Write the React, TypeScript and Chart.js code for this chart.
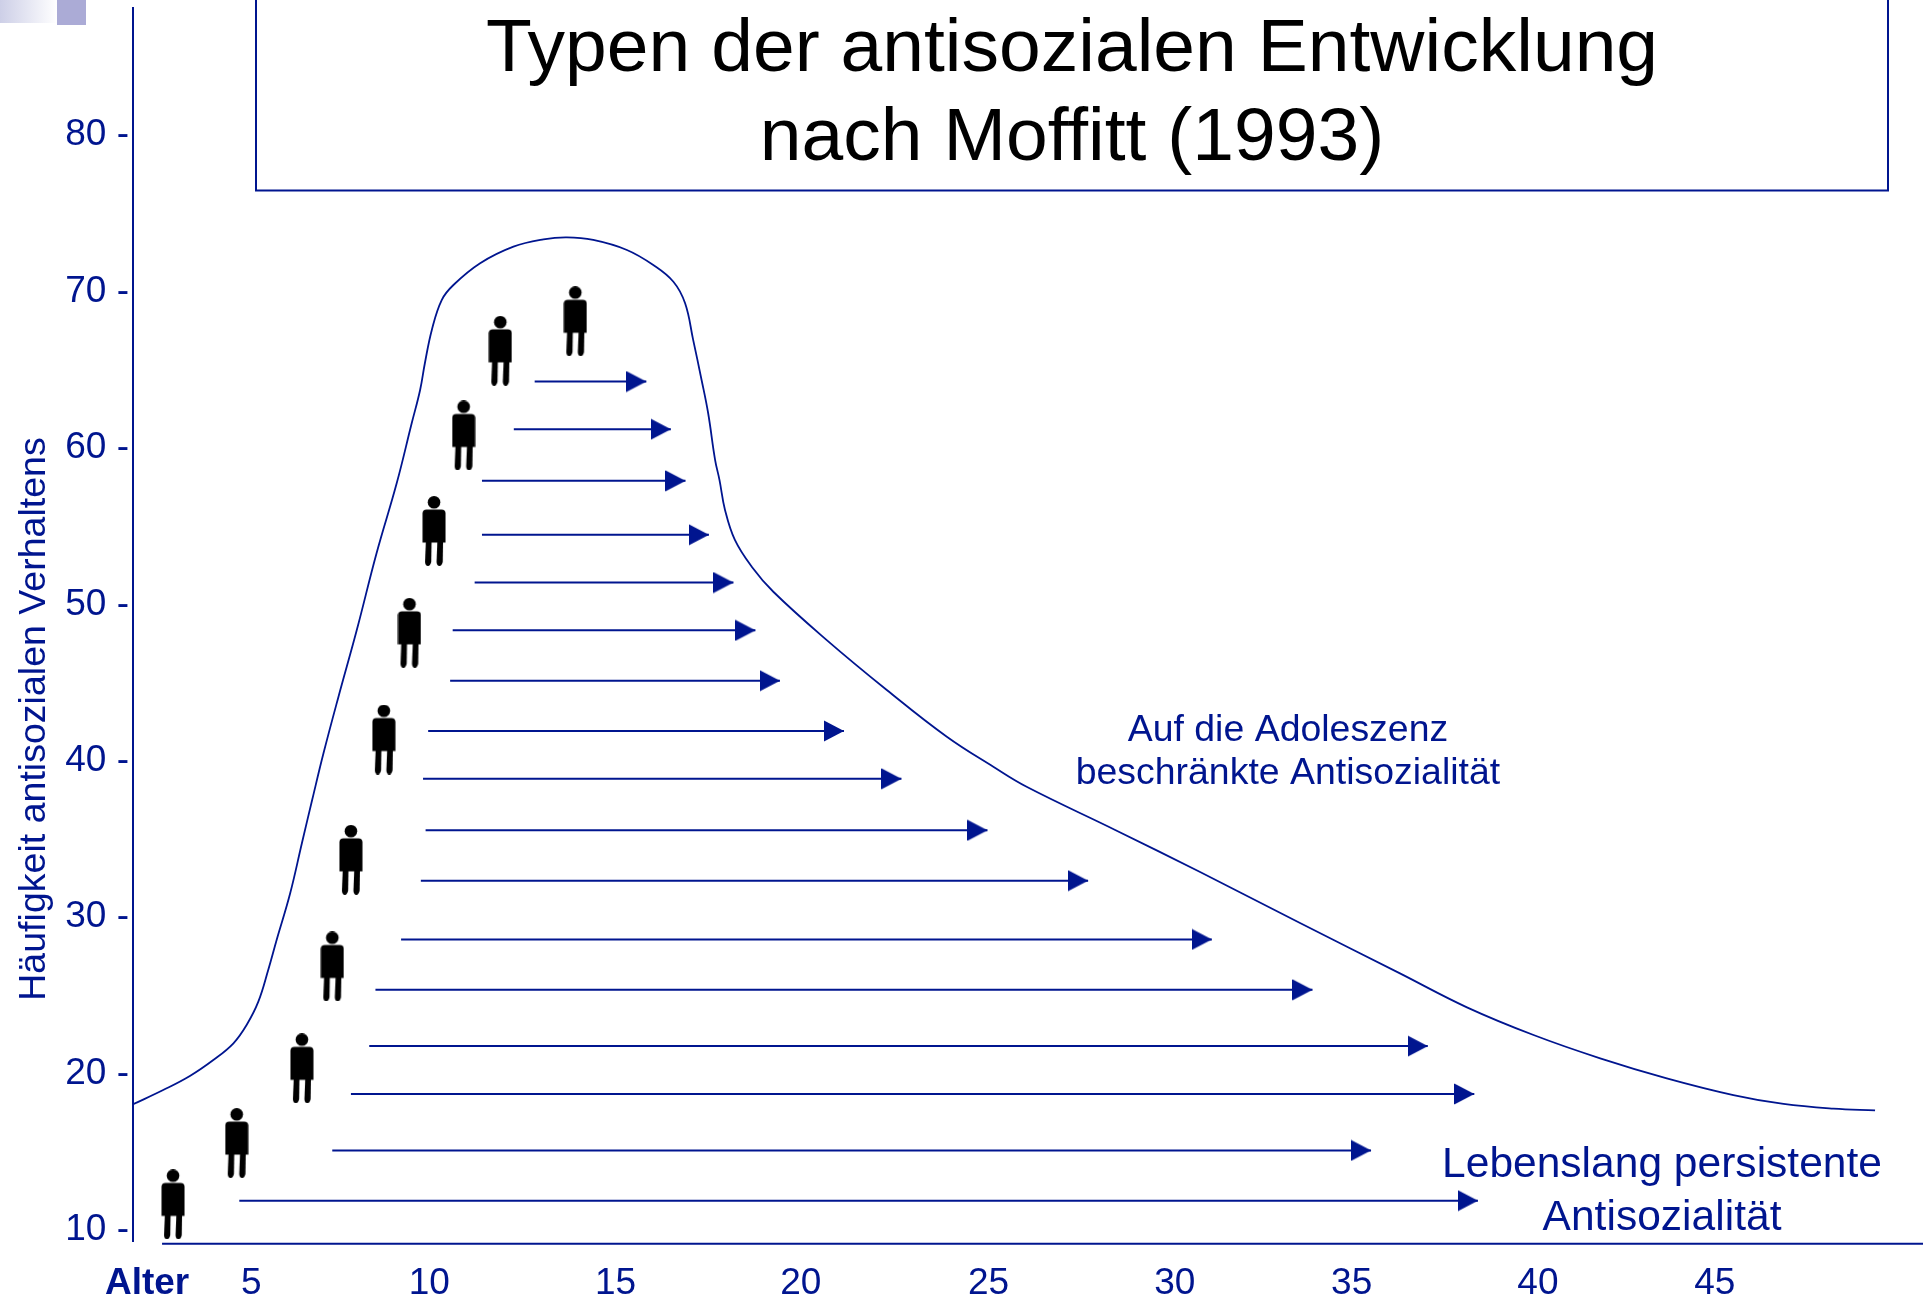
import React, { useEffect, useRef } from "react";
import { Chart, registerables } from "chart.js";

Chart.register(...registerables);

const BLUE = "#00158F";
const FONT = '"Liberation Sans", Arial, sans-serif';

const yTicks = [10, 20, 30, 40, 50, 60, 70, 80];
const xTickLabels = ["Alter", "5", "10", "15", "20", "25", "30", "35", "40", "45"];
const xTickAges = [2.16, 5.01, 9.87, 14.96, 20.02, 25.15, 30.24, 35.07, 40.16, 44.99];

const curveAge = [1.78, 2.6, 3.33, 3.97, 4.52, 4.88, 5.2, 5.47, 5.7, 6.07, 6.39, 6.67, 6.98, 7.39, 7.89, 8.43, 8.98, 9.39, 9.62, 9.75, 9.94, 10.21, 10.53, 11.26, 12.17, 12.99, 13.63, 14.35, 15.27, 15.99, 16.54, 16.86, 17.08, 17.31, 17.49, 17.68, 17.8, 17.95, 18.22, 18.68, 19.27, 20.73, 22.37, 24.01, 25.28, 26.19, 28.61, 30.93, 33.66, 36.39, 38.22, 40.04, 41.86, 43.68, 45.5, 46.87, 48.23, 49.37];
const curveFreq = [18.04, 18.95, 19.85, 20.87, 21.94, 23.11, 24.6, 26.62, 28.54, 31.53, 34.73, 37.49, 40.48, 44.1, 48.36, 53.27, 57.74, 61.58, 63.71, 65.42, 67.55, 69.46, 70.42, 71.81, 72.87, 73.34, 73.47, 73.3, 72.66, 71.7, 70.63, 69.25, 66.91, 64.35, 62.22, 59.23, 57.95, 56.04, 54.12, 52.41, 50.81, 47.72, 44.53, 41.54, 39.62, 38.34, 35.58, 32.89, 29.63, 26.41, 24.24, 22.47, 20.98, 19.7, 18.63, 18.06, 17.76, 17.65];

const arrowStart = [12.75, 12.18, 11.31, 11.31, 11.11, 10.51, 10.44, 9.84, 9.7, 9.77, 9.64, 9.1, 8.4, 8.23, 7.73, 7.22, 4.68];
const arrowEnd = [15.8, 16.47, 16.87, 17.51, 18.18, 18.78, 19.45, 21.2, 22.77, 25.12, 27.87, 31.25, 34.0, 37.15, 38.42, 35.6, 38.52];
const arrowFreq = [64.25, 61.2, 57.9, 54.45, 51.4, 48.34, 45.12, 41.91, 38.85, 35.56, 32.34, 28.58, 25.36, 21.76, 18.7, 15.09, 11.88];

const personAge = [2.87, 4.61, 6.39, 7.22, 7.73, 8.63, 9.33, 10.0, 10.81, 11.81, 13.86];
const personFreq = [11.64, 15.56, 20.34, 26.85, 33.67, 41.36, 48.18, 54.69, 60.8, 66.21, 68.1];

const titleLines = ["Typen der antisozialen Entwicklung", "nach Moffitt (1993)"];
const yAxisTitle = "Häufigkeit antisozialen Verhaltens";
const adolescenceLines = ["Auf die Adoleszenz", "beschränkte Antisozialität"];
const lifelongLines = ["Lebenslang persistente", "Antisozialität"];

function makeArrowHead() {
  const c = document.createElement("canvas");
  c.width = 40;
  c.height = 22;
  const g = c.getContext("2d")!;
  g.fillStyle = BLUE;
  g.beginPath();
  g.moveTo(0, 0.6);
  g.lineTo(20, 11);
  g.lineTo(0, 21.4);
  g.closePath();
  g.fill();
  return c;
}

function makePerson() {
  const c = document.createElement("canvas");
  c.width = 24;
  c.height = 70;
  const g = c.getContext("2d")!;
  g.fillStyle = "#000";
  g.beginPath();
  g.arc(12, 6.3, 6.3, 0, Math.PI * 2);
  g.fill();
  g.beginPath();
  g.roundRect(0.5, 13.5, 23, 33, [4, 4, 0, 0]);
  g.fill();
  for (const left of [3, 14.5]) {
    g.beginPath();
    g.moveTo(left + 0.8, 46);
    g.lineTo(left + 6.5, 46);
    g.lineTo(left + 6.2, 66);
    g.quadraticCurveTo(left + 5, 70, left + 3, 70);
    g.quadraticCurveTo(left + 0.4, 70, left, 66);
    g.closePath();
    g.fill();
  }
  return c;
}

const decorations = {
  id: "decorations",
  beforeDraw(chart: any) {
    const ctx = chart.ctx;
    ctx.save();
    ctx.fillStyle = "#fff";
    ctx.fillRect(0, 0, chart.width, chart.height);
    const grad = ctx.createLinearGradient(0, 0, 57, 0);
    grad.addColorStop(0, "#CDCFE7");
    grad.addColorStop(1, "#FFFFFF");
    ctx.fillStyle = grad;
    ctx.fillRect(0, 0, 57, 23);
    ctx.fillStyle = "#ABABD6";
    ctx.fillRect(57, 0, 29, 25);
    ctx.restore();
  },
  afterDraw(chart: any) {
    const ctx = chart.ctx;
    const x = chart.scales.x;
    const y = chart.scales.y;
    const setFont = (size: number) => {
      ctx.font = `${size}px ${FONT}`;
      // a small letter spacing turns off the "ff" and "fi" ligatures, which the reference does not have
      ctx.letterSpacing = "0.02px";
    };
    ctx.save();
    ctx.strokeStyle = BLUE;
    ctx.lineWidth = 2;
    ctx.beginPath();
    ctx.moveTo(256, 0);
    ctx.lineTo(256, 190.5);
    ctx.lineTo(1888, 190.5);
    ctx.lineTo(1888, 0);
    ctx.stroke();

    ctx.textAlign = "center";
    ctx.textBaseline = "middle";
    ctx.fillStyle = "#000";
    setFont(75);
    ctx.fillText(titleLines[0], 1072, 50);
    ctx.fillText(titleLines[1], 1072, 139);

    ctx.fillStyle = BLUE;
    setFont(37.4);
    ctx.fillText(adolescenceLines[0], x.getPixelForValue(33.33), y.getPixelForValue(41.9));
    ctx.fillText(adolescenceLines[1], x.getPixelForValue(33.33), y.getPixelForValue(39.15));

    setFont(42.5);
    ctx.fillText(lifelongLines[0], x.getPixelForValue(43.55), y.getPixelForValue(14.17));
    ctx.fillText(lifelongLines[1], x.getPixelForValue(43.55), y.getPixelForValue(10.77));

    setFont(37.5);
    ctx.translate(35, 719);
    ctx.rotate(-Math.PI / 2);
    ctx.fillText(yAxisTitle, 0, 0);
    ctx.restore();
  },
};

const clearPadding = (s: any) => {
  s.paddingTop = 0;
  s.paddingBottom = 0;
  s.paddingLeft = 0;
  s.paddingRight = 0;
};

export default function App() {
  const ref = useRef<HTMLCanvasElement>(null);
  useEffect(() => {
    const arrowHead = makeArrowHead();
    const person = makePerson();
    const arrowSets = arrowFreq.map((f, i) => ({
      data: [
        { x: arrowStart[i], y: f },
        { x: arrowEnd[i], y: f },
      ],
      borderColor: BLUE,
      borderWidth: 2,
      pointStyle: arrowHead,
      pointRadius: [0, 10],
      pointHoverRadius: [0, 10],
      showLine: true,
    }));
    const chart = new Chart(ref.current!, {
      type: "line",
      data: {
        datasets: [
          {
            data: curveAge.map((a, i) => ({ x: a, y: curveFreq[i] })),
            borderColor: BLUE,
            borderWidth: 1.8,
            pointRadius: 0,
            tension: 0.4,
          },
          {
            data: [
              { x: 2.57, y: 9.124 },
              { x: 50.68, y: 9.124 },
            ],
            borderColor: BLUE,
            borderWidth: 2,
            pointRadius: 0,
            clip: false,
          },
          ...arrowSets,
          {
            data: personAge.map((a, i) => ({ x: a, y: personFreq[i] })),
            showLine: false,
            pointStyle: person,
            pointRadius: 10,
          },
        ] as any,
      },
      options: {
        animation: false,
        responsive: false,
        events: [],
        layout: { autoPadding: false, padding: { top: 8, left: 0, right: 0, bottom: 0 } },
        plugins: { legend: { display: false }, tooltip: { enabled: false }, title: { display: false } },
        scales: {
          x: {
            type: "linear",
            min: 1.776,
            max: 50.68,
            afterFit: (s: any) => {
              s.height = 59;
              clearPadding(s);
            },
            afterBuildTicks: (s: any) => {
              s.ticks = xTickAges.map((v) => ({ value: v }));
            },
            grid: { display: false, drawTicks: false },
            border: { display: false },
            ticks: {
              autoSkip: false,
              maxRotation: 0,
              padding: 21,
              color: BLUE,
              font: (c: any) => ({ family: FONT, size: 37, weight: c.index === 0 ? "bold" : "normal" }),
              callback: (_v: any, i: number) => xTickLabels[i],
            },
          },
          y: {
            type: "linear",
            min: 9.3,
            max: 88.13,
            afterFit: (s: any) => {
              s.width = 133;
              clearPadding(s);
            },
            afterBuildTicks: (s: any) => {
              s.ticks = yTicks.map((v) => ({ value: v }));
            },
            grid: { display: false, drawTicks: false },
            border: { display: true, color: BLUE, width: 2 },
            ticks: {
              padding: 4,
              color: BLUE,
              font: { family: FONT, size: 37 },
              callback: (v: any) => `${v} -`,
            },
          },
        },
      } as any,
      plugins: [decorations],
    });
    return () => chart.destroy();
  }, []);
  return (
    <div style={{ position: "absolute", left: 0, top: 0, width: 1923, height: 1300, overflow: "hidden" }}>
      <canvas ref={ref} width={1923} height={1300} style={{ display: "block" }} />
    </div>
  );
}
